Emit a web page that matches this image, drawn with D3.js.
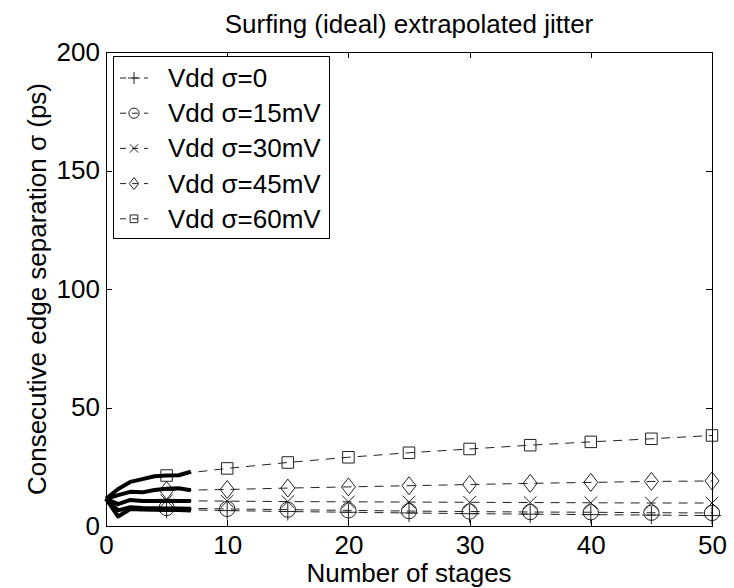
<!DOCTYPE html>
<meta charset="utf-8">
<style>
body { margin: 0; background: #fff; }
svg text { font-family: "Liberation Sans", Arial, sans-serif; fill: #000; }
.axis path, .axis line { stroke: #000; stroke-width: 1; shape-rendering: crispEdges; }
</style>
<body>
<div id="chart"></div>
<script src="https://d3js.org/d3.v7.min.js"></script>
<script>

var width = 734,
    height = 588;

// x: number of stages, y: sigma in ps
var stagesMeasured = [0, 1, 2, 3, 4, 5, 6, 7];
var stagesExtrap = [5, 10, 15, 20, 25, 30, 35, 40, 45, 50];

var seriesNames = ["Vdd \u03c3=0", "Vdd \u03c3=15mV", "Vdd \u03c3=30mV", "Vdd \u03c3=45mV", "Vdd \u03c3=60mV"];
var seriesMarkers = ["plus", "circle", "cross", "diamond", "square"];

// measured (solid thick lines)
var measured0  = [11.5, 4.0, 7.2, 7.0, 6.9, 6.8, 6.7, 6.5];
var measured15 = [11.5, 6.6, 7.9, 7.6, 7.5, 7.4, 7.4, 7.3];
var measured30 = [11.5, 9.2, 11.0, 10.5, 10.6, 10.7, 10.6, 10.6];
var measured45 = [11.5, 13.0, 14.4, 14.2, 15.2, 15.7, 15.9, 15.1];
var measured60 = [11.5, 15.6, 18.6, 19.8, 21.0, 21.3, 21.4, 22.9];

// extrapolated (dashed lines with markers)
var extrap0  = [7.0, 6.5, 6.1, 5.8, 5.5, 5.2, 5.0, 4.8, 4.6, 4.4];
var extrap15 = [7.6, 7.2, 6.9, 6.6, 6.3, 6.1, 5.9, 5.8, 5.6, 5.5];
var extrap30 = [10.7, 10.5, 10.3, 10.2, 10.1, 10.0, 9.9, 9.8, 9.7, 9.7];
var extrap45 = [15.0, 15.4, 16.0, 16.5, 17.0, 17.5, 18.0, 18.4, 18.8, 19.0];
var extrap60 = [21.3, 24.3, 26.8, 29.0, 30.9, 32.5, 34.1, 35.5, 36.8, 38.2];

var xTicks = [0, 10, 20, 30, 40, 50];
var yTicks = [0, 50, 100, 150, 200];

var measured = [measured0, measured15, measured30, measured45, measured60];
var extrap = [extrap0, extrap15, extrap30, extrap45, extrap60];

var svg = d3.select("#chart").append("svg")
    .attr("width", width)
    .attr("height", height);

var x = d3.scaleLinear().domain([0, 50]).range([106, 712]);
var y = d3.scaleLinear().domain([0, 200]).range([526, 52]);

// marker path for a given shape, centred at 0,0
function markerPath(shape, s) {
  var h = s / 2;
  switch (shape) {
    case "plus":
      return "M" + (-h) + ",0H" + h + "M0," + (-h) + "V" + h;
    case "cross":
      var c = h * 0.7;
      return "M" + (-c) + "," + (-c) + "L" + c + "," + c + "M" + (-c) + "," + c + "L" + c + "," + (-c);
    case "circle":
      var r = h * 0.85;
      return "M" + (-r) + ",0A" + r + "," + r + " 0 1,0 " + r + ",0A" + r + "," + r + " 0 1,0 " + (-r) + ",0Z";
    case "diamond":
      var w = h * 0.78;
      return "M0," + (-h) + "L" + w + ",0L0," + h + "L" + (-w) + ",0Z";
    case "square":
      var q = h * 0.64;
      return "M" + (-q) + "," + (-q) + "H" + q + "V" + q + "H" + (-q) + "Z";
  }
}

var line = d3.line()
    .x(function(d) { return x(d[0]); })
    .y(function(d) { return y(d[1]); });

var plot = svg.append("g");

// dashed extrapolation
extrap.forEach(function(vals, i) {
  var pts = stagesExtrap.map(function(s, j) { return [s, vals[j]]; });
  plot.append("path")
    .datum(pts)
    .attr("d", line)
    .attr("fill", "none")
    .attr("stroke", "#222")
    .attr("stroke-width", 1)
    .attr("stroke-dasharray", "9,7");

  plot.selectAll(".m" + i)
    .data(pts)
    .enter().append("path")
    .attr("class", "m" + i)
    .attr("transform", function(d) { return "translate(" + x(d[0]) + "," + y(d[1]) + ")"; })
    .attr("d", markerPath(seriesMarkers[i], 18))
    .attr("fill", "none")
    .attr("stroke", "#222")
    .attr("stroke-width", 1);
});

// measured solid lines
measured.forEach(function(vals) {
  plot.append("path")
    .datum(stagesMeasured.map(function(s, j) { return [s, vals[j]]; }))
    .attr("d", line)
    .attr("fill", "none")
    .attr("stroke", "#000")
    .attr("stroke-width", 4)
    .attr("stroke-linejoin", "round");
});

// axes (MATLAB style box, ticks inside)
var fontSize = 26;

svg.append("g")
    .attr("class", "axis")
    .attr("transform", "translate(0," + y(0) + ")")
    .call(d3.axisBottom(x).tickValues(xTicks).tickSize(-6).tickSizeOuter(0).tickPadding(10))
    .selectAll("text").style("font-size", fontSize + "px");

svg.append("g")
    .attr("class", "axis")
    .attr("transform", "translate(0," + y(200) + ")")
    .call(d3.axisTop(x).tickValues(xTicks).tickSize(-6).tickSizeOuter(0).tickFormat(""));

svg.append("g")
    .attr("class", "axis")
    .attr("transform", "translate(" + x(0) + ",0)")
    .call(d3.axisLeft(y).tickValues(yTicks).tickSize(-6).tickSizeOuter(0).tickPadding(6))
    .selectAll("text").style("font-size", fontSize + "px");

svg.append("g")
    .attr("class", "axis")
    .attr("transform", "translate(" + x(50) + ",0)")
    .call(d3.axisRight(y).tickValues(yTicks).tickSize(-6).tickSizeOuter(0).tickFormat(""));

// titles
svg.append("text")
    .attr("x", (x(0) + x(50)) / 2)
    .attr("y", 33)
    .attr("text-anchor", "middle")
    .style("font-size", "26px")
    .text("Surfing (ideal) extrapolated jitter");

svg.append("text")
    .attr("x", (x(0) + x(50)) / 2)
    .attr("y", 582)
    .attr("text-anchor", "middle")
    .style("font-size", fontSize + "px")
    .text("Number of stages");

svg.append("text")
    .attr("transform", "translate(46," + (y(0) + y(200)) / 2 + ") rotate(-90)")
    .attr("text-anchor", "middle")
    .style("font-size", fontSize + "px")
    .text("Consecutive edge separation \u03c3 (ps)");

// legend
var legend = svg.append("g");
legend.append("rect")
    .attr("x", 113.5)
    .attr("y", 56.5)
    .attr("width", 216)
    .attr("height", 182)
    .attr("fill", "#fff")
    .attr("stroke", "#000")
    .attr("stroke-width", 1);

seriesNames.forEach(function(name, i) {
  var cy = 78 + i * 35.2;
  var g = legend.append("g").attr("transform", "translate(0," + cy + ")");
  g.append("line")
    .attr("x1", 120).attr("x2", 148)
    .attr("y1", 0).attr("y2", 0)
    .attr("stroke", "#222")
    .attr("stroke-dasharray", "6,6");
  g.append("path")
    .attr("transform", "translate(134,0)")
    .attr("d", markerPath(seriesMarkers[i], 12))
    .attr("fill", "none")
    .attr("stroke", "#222");
  g.append("text")
    .attr("x", 168)
    .attr("y", 9)
    .style("font-size", fontSize + "px")
    .text(name);
});

</script>
</body>
